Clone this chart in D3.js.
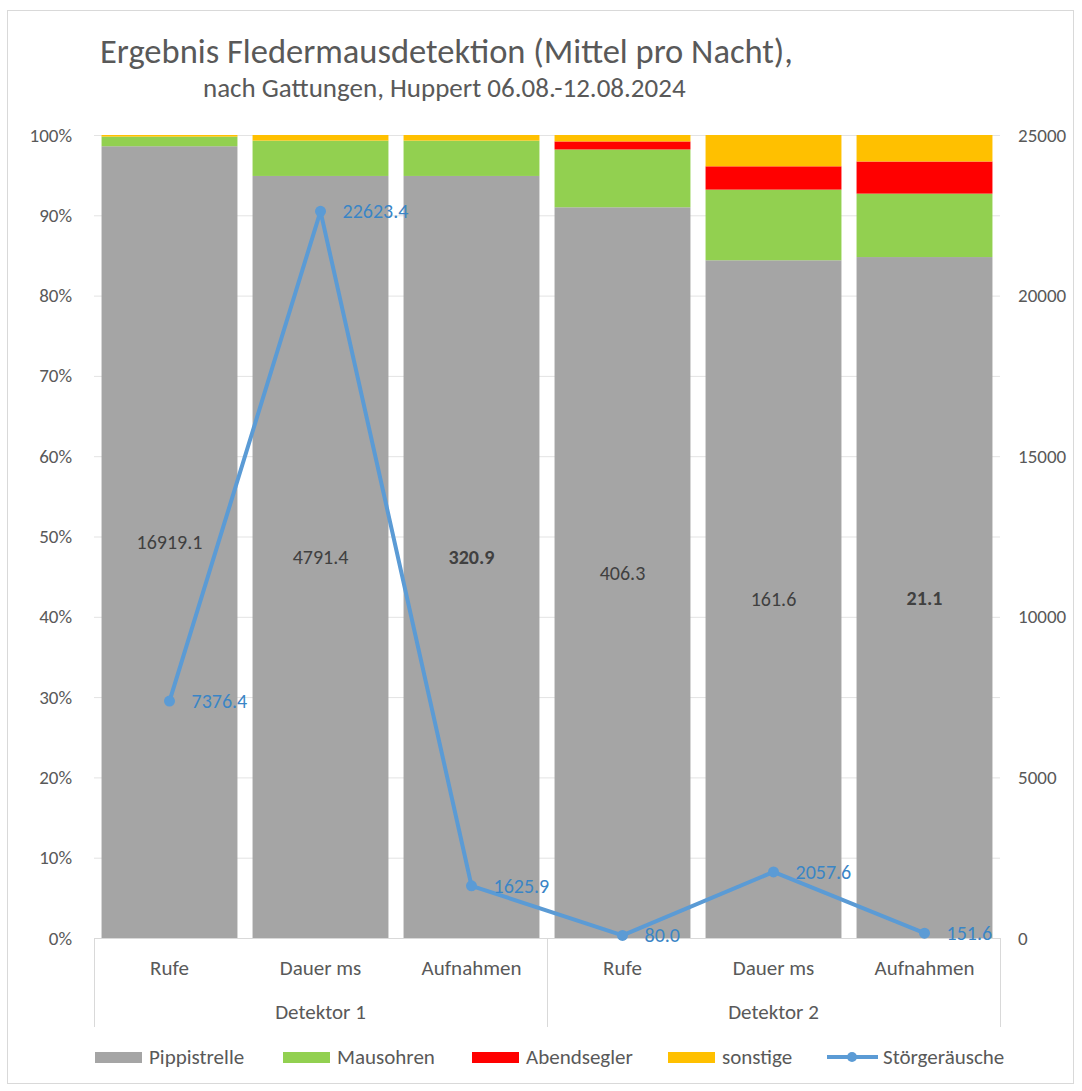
<!DOCTYPE html>
<html>
<head>
<meta charset="utf-8">
<script src="https://cdn.jsdelivr.net/npm/d3@7"></script>
<style>
body { margin: 0; background: #fff; }
text { font-family: Carlito, Lato, "Liberation Sans", sans-serif; }
.tick text { fill: #595959; font-size: 19px; }
</style>
</head>
<body>
<script>
// chart data
var categories = ["Rufe", "Dauer ms", "Aufnahmen", "Rufe", "Dauer ms", "Aufnahmen"];
var groups = ["Detektor 1", "Detektor 2"];
var seriesNames = ["Pippistrelle", "Mausohren", "Abendsegler", "sonstige"];
var pippistrelle = [98.6, 94.9, 94.9, 91.0, 84.4, 84.8];
var mausohren = [1.2, 4.4, 4.4, 7.2, 8.8, 7.9];
var abendsegler = [0, 0, 0, 1.0, 2.9, 4.0];
var sonstige = [0.2, 0.7, 0.7, 0.8, 3.9, 3.3];
var pipLabels = ["16919.1", "4791.4", "320.9", "406.3", "161.6", "21.1"];
var pipBold = [false, false, true, false, false, true];
var stoerName = "Störgeräusche";
var stoer = [7376.4, 22623.4, 1625.9, 80.0, 2057.6, 151.6];
var colors = ["#a5a5a5", "#92d050", "#ff0000", "#ffc000"];
var lineColor = "#5b9bd5";

var W = 1082, H = 1091;
var plotL = 94, plotR = 1000, plotT = 135, plotB = 938;

var svg = d3.select("body").append("svg")
    .attr("width", W)
    .attr("height", H);

// outer frame
svg.append("rect")
    .attr("x", 7.5).attr("y", 10.5)
    .attr("width", 1066).attr("height", 1073)
    .attr("fill", "#fff").attr("stroke", "#d9d9d9");

// titles
svg.append("text").attr("x", 100).attr("y", 63)
    .attr("font-size", 34.5).attr("fill", "#595959")
    .text("Ergebnis Fledermausdetektion (Mittel pro Nacht),");
svg.append("text").attr("x", 203).attr("y", 97)
    .attr("font-size", 27).attr("fill", "#595959")
    .text("nach Gattungen, Huppert 06.08.-12.08.2024");

var rows = categories.map(function(c, i) {
  return { i: i, Pippistrelle: pippistrelle[i], Mausohren: mausohren[i],
           Abendsegler: abendsegler[i], sonstige: sonstige[i] };
});

var x = d3.scaleBand().domain(d3.range(categories.length))
    .range([plotL, plotR]).paddingInner(0.1).paddingOuter(0.05);
var y = d3.scaleLinear().domain([0, 100]).range([plotB, plotT]);
var y2 = d3.scaleLinear().domain([0, 25000]).range([plotB, plotT]);

// gridlines
svg.append("g").selectAll("line")
    .data(y.ticks(10).slice(1))
  .enter().append("line")
    .attr("x1", plotL).attr("x2", plotR)
    .attr("y1", function(d) { return y(d) + 0.5; })
    .attr("y2", function(d) { return y(d) + 0.5; })
    .attr("stroke", "#e3e3e3");

// stacked bars
var stack = d3.stack().keys(seriesNames)(rows);
svg.append("g").selectAll("g")
    .data(stack)
  .enter().append("g")
    .attr("fill", function(d, k) { return colors[k]; })
  .selectAll("rect")
    .data(function(d) { return d; })
  .enter().append("rect")
    .attr("x", function(d) { return x(d.data.i); })
    .attr("width", x.bandwidth())
    .attr("y", function(d) { return y(d[1]); })
    .attr("height", function(d) { return y(d[0]) - y(d[1]); });

// labels in grey segment
svg.append("g").selectAll("text")
    .data(stack[0])
  .enter().append("text")
    .attr("x", function(d) { return x(d.data.i) + x.bandwidth() / 2; })
    .attr("y", function(d) { return (y(d[0]) + y(d[1])) / 2 + 7; })
    .attr("text-anchor", "middle")
    .attr("font-size", 20)
    .attr("font-weight", function(d) { return pipBold[d.data.i] ? "bold" : "normal"; })
    .attr("fill", "#404040")
    .text(function(d) { return pipLabels[d.data.i]; });

// left axis
var yAxis = svg.append("g")
    .attr("transform", "translate(" + plotL + ",0)")
    .call(d3.axisLeft(y).ticks(10).tickSize(0).tickPadding(22)
      .tickFormat(function(d) { return d + "%"; }));
yAxis.select(".domain").remove();

// right axis
var yAxis2 = svg.append("g")
    .attr("transform", "translate(" + plotR + ",0)")
    .call(d3.axisRight(y2).tickValues([0, 5000, 10000, 15000, 20000, 25000])
      .tickSize(0).tickPadding(18).tickFormat(d3.format("d")));
yAxis2.select(".domain").remove();

// category axis
var axisG = svg.append("g");
axisG.append("line")
    .attr("x1", plotL).attr("x2", plotR)
    .attr("y1", plotB + 0.5).attr("y2", plotB + 0.5)
    .attr("stroke", "#d9d9d9");
[plotL, (plotL + plotR) / 2, plotR].forEach(function(px) {
  axisG.append("line")
      .attr("x1", Math.round(px) + 0.5).attr("x2", Math.round(px) + 0.5)
      .attr("y1", plotB).attr("y2", 1027)
      .attr("stroke", "#d9d9d9");
});
axisG.selectAll("text.cat")
    .data(categories)
  .enter().append("text")
    .attr("class", "cat")
    .attr("x", function(d, i) { return x(i) + x.bandwidth() / 2; })
    .attr("y", 975)
    .attr("text-anchor", "middle")
    .attr("font-size", 21).attr("fill", "#595959")
    .text(function(d) { return d; });
axisG.selectAll("text.grp")
    .data(groups)
  .enter().append("text")
    .attr("class", "grp")
    .attr("x", function(d, g) { return plotL + (plotR - plotL) / 4 * (2 * g + 1); })
    .attr("y", 1019)
    .attr("text-anchor", "middle")
    .attr("font-size", 21).attr("fill", "#595959")
    .text(function(d) { return d; });

// line series on secondary axis
var line = d3.line()
    .x(function(d, i) { return x(i) + x.bandwidth() / 2; })
    .y(function(d) { return y2(d); });
svg.append("path")
    .datum(stoer)
    .attr("fill", "none")
    .attr("stroke", lineColor)
    .attr("stroke-width", 4)
    .attr("stroke-linejoin", "round")
    .attr("d", line);
svg.append("g").selectAll("circle")
    .data(stoer)
  .enter().append("circle")
    .attr("cx", function(d, i) { return x(i) + x.bandwidth() / 2; })
    .attr("cy", function(d) { return y2(d); })
    .attr("r", 5.5)
    .attr("fill", lineColor);
svg.append("g").selectAll("text")
    .data(stoer)
  .enter().append("text")
    .attr("x", function(d, i) { return x(i) + x.bandwidth() / 2 + 22; })
    .attr("y", function(d) { return y2(d) + 7; })
    .attr("font-size", 20)
    .attr("fill", "#3a85c6")
    .text(function(d) { return d.toFixed(1); });

// legend
var legendItems = seriesNames.map(function(n, k) { return { name: n, color: colors[k], type: "rect" }; });
legendItems.push({ name: stoerName, color: lineColor, type: "line" });
var legendX = [95, 283, 472, 668, 827];
var lg = svg.append("g").selectAll("g")
    .data(legendItems)
  .enter().append("g")
    .attr("transform", function(d, k) { return "translate(" + legendX[k] + ",1057)"; });
lg.filter(function(d) { return d.type == "rect"; }).append("rect")
    .attr("x", 0).attr("y", -5).attr("width", 47).attr("height", 11)
    .attr("fill", function(d) { return d.color; });
lg.filter(function(d) { return d.type == "line"; }).append("line")
    .attr("x1", 0).attr("x2", 51).attr("y1", 0).attr("y2", 0)
    .attr("stroke", lineColor).attr("stroke-width", 4);
lg.filter(function(d) { return d.type == "line"; }).append("circle")
    .attr("cx", 25).attr("cy", 0).attr("r", 5).attr("fill", lineColor);
lg.append("text")
    .attr("x", function(d) { return d.type == "line" ? 56 : 54; })
    .attr("y", 7)
    .attr("font-size", 21).attr("fill", "#595959")
    .text(function(d) { return d.name; });
</script>
</body>
</html>
